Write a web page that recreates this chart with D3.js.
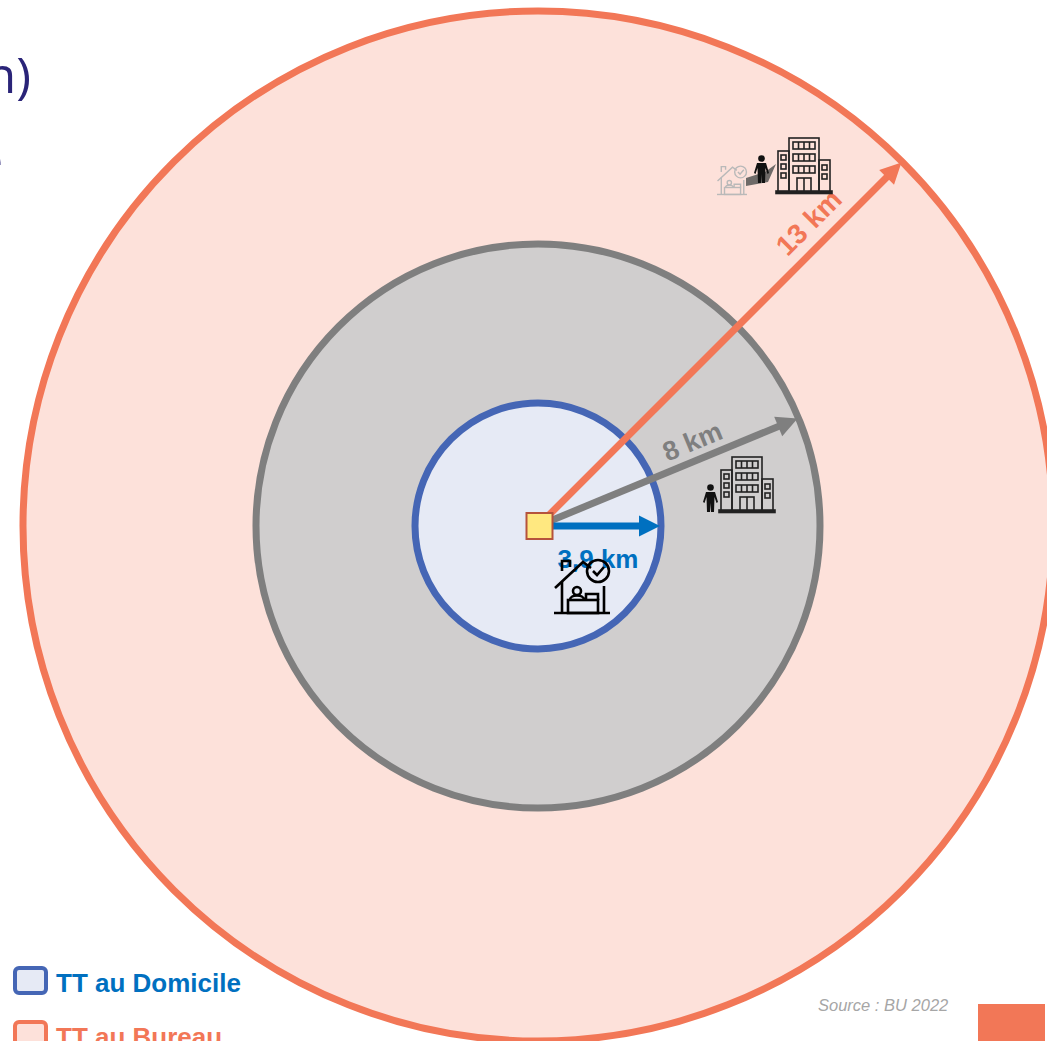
<!DOCTYPE html>
<html>
<head>
<meta charset="utf-8">
<style>
  html, body { margin: 0; padding: 0; background: #fff; overflow: hidden; }
  svg { display: block; }
  text { font-family: "Liberation Sans", Arial, sans-serif; }
</style>
</head>
<body>
<svg></svg>
<script src="https://cdn.jsdelivr.net/npm/d3@7"></script>
<script>
const ring_km = [13, 8, 3.9];
const ring_labels = ["13 km", "8 km", "3,9 km"];
const ring_angles = [45, 22.5, 0];
const ring_fill = ["#fde1da", "#d0cece", "#e6eaf5"];
const ring_stroke = ["#f27757", "#7f7f7f", "#4566b5"];
const arrow_color = ["#f27757", "#7f7f7f", "#0070c0"];
const legend_names = ["TT au Domicile", "TT au Bureau"];
const legend_fill = ["#e6eaf5", "#fde1da"];
const legend_stroke = ["#4566b5", "#f27757"];
const legend_text = ["#0070c0", "#f27757"];

const width = 1047, height = 1041;
const cx = 538, cy = 526;

const svg = d3.select("svg").attr("width", width).attr("height", height)
  .attr("viewBox", [0, 0, width, height]);

// rings are schematic in the original, so the km scale is piecewise
const r_scale = d3.scaleLinear().domain([0, 3.9, 8, 13]).range([0, 123, 282, 515]);

// cut off title on the left
const title_color = "#2a2478";
svg.append("text").attr("x", 31).attr("y", 93).attr("text-anchor", "end")
  .style("font-family", "'Open Sans'").style("font-size", "50px").attr("fill", title_color).text("n)");
svg.append("text").attr("x", 3).attr("y", 178).attr("text-anchor", "end")
  .style("font-family", "'Open Sans'").style("font-size", "50px").attr("fill", title_color).text("e");

svg.selectAll("circle.ring").data(ring_km).join("circle")
  .attr("class", "ring")
  .attr("cx", cx).attr("cy", cy)
  .attr("r", d => r_scale(d))
  .attr("fill", (d, i) => ring_fill[i])
  .attr("stroke", (d, i) => ring_stroke[i])
  .attr("stroke-width", 7);

const label_pos = [
  { along: 406, off: -21, size: 28 },
  { along: 175, off: -17, size: 27 },
  { along: 60, off: 35, size: 26 }
];

const arrows = svg.selectAll("g.arrow").data(ring_km).join("g")
  .attr("class", "arrow")
  .attr("transform", (d, i) => `translate(${cx},${cy}) rotate(${-ring_angles[i]})`);

arrows.append("line")
  .attr("x1", 0).attr("y1", 0)
  .attr("x2", d => r_scale(d) - 18)
  .attr("y2", 0)
  .attr("stroke", (d, i) => arrow_color[i])
  .attr("stroke-width", 7);

arrows.append("path")
  .attr("d", d => {
    const tip = r_scale(d) - 1;
    return d3.line()([[tip, 0], [tip - 21, -10.5], [tip - 21, 10.5]]) + "Z";
  })
  .attr("fill", (d, i) => arrow_color[i]);

arrows.append("text")
  .attr("x", (d, i) => label_pos[i].along)
  .attr("y", (d, i) => label_pos[i].off)
  .attr("text-anchor", "middle")
  .attr("dominant-baseline", "middle")
  .attr("font-weight", "bold")
  .style("font-size", (d, i) => label_pos[i].size + "px")
  .attr("fill", (d, i) => arrow_color[i])
  .text((d, i) => ring_labels[i]);

// centre marker
svg.append("rect").attr("x", cx - 11.5).attr("y", cy - 13).attr("width", 26).attr("height", 26)
  .attr("fill", "#ffe880").attr("stroke", "#b5533c").attr("stroke-width", 2);

// icons, drawn in their own local units
function building(x, y, color) {
  const g = svg.append("g").attr("transform", `translate(${x},${y})`)
    .attr("fill", "none").attr("stroke", color).attr("stroke-width", 1.6);
  g.append("rect").attr("x", 13).attr("y", 1).attr("width", 30).attr("height", 54);
  g.append("rect").attr("x", 2).attr("y", 14).attr("width", 11).attr("height", 41);
  g.append("rect").attr("x", 43).attr("y", 23).attr("width", 11).attr("height", 32);
  g.append("rect").attr("x", 0).attr("y", 54).attr("width", 56).attr("height", 2.5)
    .attr("fill", color);
  d3.range(3).forEach(r => {
    g.append("rect").attr("x", 17).attr("y", 5 + r * 12).attr("width", 22).attr("height", 7);
    d3.range(1, 4).forEach(c => {
      g.append("line").attr("x1", 17 + c * 5.5).attr("x2", 17 + c * 5.5)
        .attr("y1", 5 + r * 12).attr("y2", 12 + r * 12);
    });
  });
  g.append("rect").attr("x", 21).attr("y", 41).attr("width", 14).attr("height", 14);
  g.append("line").attr("x1", 28).attr("x2", 28).attr("y1", 41).attr("y2", 55);
  [18, 27, 36].forEach(v => g.append("rect").attr("x", 5).attr("y", v).attr("width", 5).attr("height", 5));
  [28, 37].forEach(v => g.append("rect").attr("x", 46).attr("y", v).attr("width", 5).attr("height", 5));
}

function person(x, y, color) {
  const g = svg.append("g").attr("transform", `translate(${x},${y})`).attr("fill", color);
  g.append("circle").attr("cx", 7.5).attr("cy", 3.5).attr("r", 3.3);
  g.append("path").attr("d", "M3 8 L12 8 L15 18 L13.5 19 L11.5 13 L11 28 L8 28 L7.5 19 L7 28 L4 28 L3.5 13 L1.5 19 L0 18 Z");
}

function house(x, y, w, color) {
  const k = w / 56;
  const g = svg.append("g").attr("transform", `translate(${x},${y}) scale(${k})`)
    .attr("fill", "none").attr("stroke", color).attr("stroke-width", 2.6);
  g.append("path").attr("d", "M1 30 L29 4 L37 10");
  g.append("path").attr("d", "M8 24 L8 54 M50 28 L50 54 M8 13 L8 3 L16 3 L16 9");
  g.append("circle").attr("cx", 44).attr("cy", 13).attr("r", 11);
  g.append("path").attr("d", "M39 13 L43 17 L50 9");
  g.append("path").attr("d", "M0 55 L56 55");
  g.append("rect").attr("x", 14).attr("y", 42).attr("width", 30).attr("height", 13);
  g.append("circle").attr("cx", 23).attr("cy", 33).attr("r", 4);
  g.append("path").attr("d", "M16 42 C16 36 30 36 30 42 M32 42 L32 36 L44 36 L44 42");
}

house(554, 558, 56, "#000");
building(719, 456, "#222");
person(703, 484, "#111");
house(717, 165, 30, "#b9b9b9");
svg.append("path").attr("d", "M746 178 L765 172 L776 164 L768 182 L746 186 Z").attr("fill", "#6e6a68");
building(776, 137, "#222");
person(754, 155, "#111");

// legend
const legend = svg.selectAll("g.legend").data(legend_names).join("g")
  .attr("class", "legend")
  .attr("transform", (d, i) => `translate(15,${968 + i * 54})`);
legend.append("rect").attr("width", 31).attr("height", 25).attr("rx", 4)
  .attr("fill", (d, i) => legend_fill[i])
  .attr("stroke", (d, i) => legend_stroke[i])
  .attr("stroke-width", 4);
legend.append("text").attr("x", 41).attr("y", 24)
  .attr("font-weight", "bold").style("font-size", "26px")
  .attr("fill", (d, i) => legend_text[i])
  .text(d => d);

svg.append("text").attr("x", 818).attr("y", 1011)
  .attr("font-style", "italic").style("font-size", "16.5px").attr("fill", "#a6a6a6")
  .text("Source : BU 2022");

svg.append("rect").attr("x", 978).attr("y", 1004).attr("width", 67).attr("height", 37).attr("fill", "#f27757");
</script>
</body>
</html>
